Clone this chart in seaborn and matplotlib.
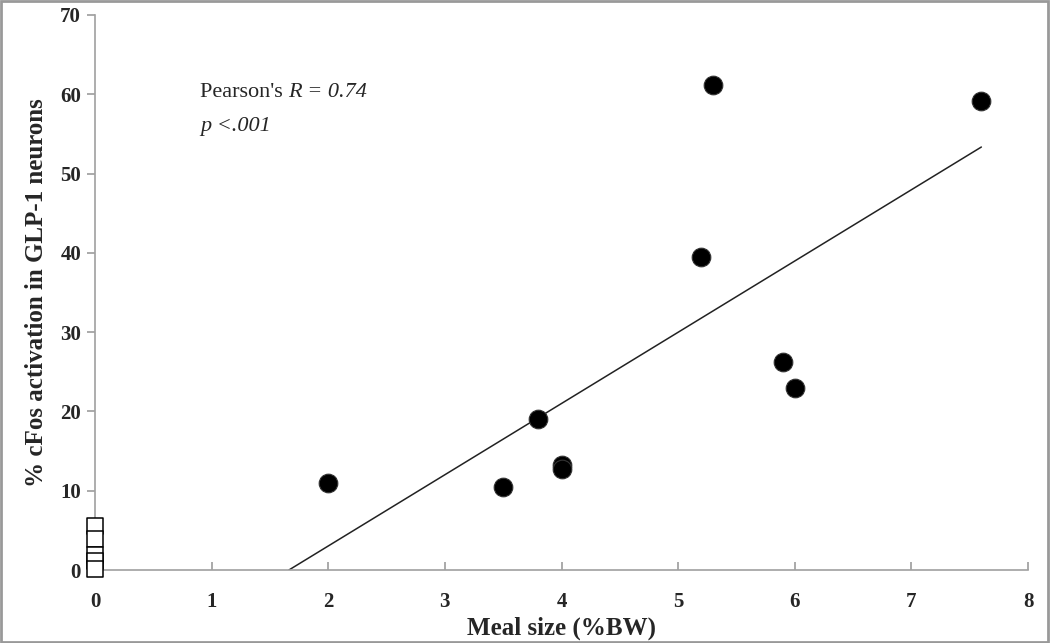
import numpy as np
import pandas as pd
import matplotlib
matplotlib.use("Agg")
import matplotlib.pyplot as plt
import seaborn as sns
from matplotlib.patches import Rectangle

# Data
meal_size = [2.0, 3.5, 3.8, 4.0, 4.0, 5.2, 5.3, 5.9, 6.0, 7.6]
cfos = [11.0, 10.5, 19.0, 13.3, 12.7, 39.5, 61.2, 26.2, 23.0, 59.2]
ctrl_meal = [0, 0, 0, 0, 0]
ctrl_cfos = [5.5, 3.9, 1.9, 1.1, 0.1]
x_ticks = [0, 1, 2, 3, 4, 5, 6, 7, 8]
y_ticks = [0, 10, 20, 30, 40, 50, 60, 70]

sns.set_theme(style="white")
plt.rcParams['font.family'] = ['Liberation Serif', 'DejaVu Serif']

fig = plt.figure(figsize=(10.5, 6.43), dpi=100)
ax = fig.add_axes([95/1050, (643-570)/643, (1028-95)/1050, (570-15)/643])

df = pd.DataFrame({"x": meal_size, "y": cfos})
dfc = pd.DataFrame({"x": ctrl_meal, "y": ctrl_cfos})

# regression line from fed animals
slope, intercept = np.polyfit(meal_size, cfos, 1)
x0 = -intercept / slope
fit = pd.DataFrame({"x": [x0, max(meal_size)]})
fit["y"] = slope * fit["x"] + intercept
sns.lineplot(data=fit, x="x", y="y", ax=ax, color="#222222", lw=1.1, zorder=2)

sns.scatterplot(data=df, x="x", y="y", ax=ax, s=180, color="black",
                edgecolor="#333333", linewidth=0.8, zorder=3)
sns.scatterplot(data=dfc, x="x", y="y", ax=ax, s=140, marker="s", color="white",
                edgecolor="black", linewidth=1.1, zorder=4, clip_on=False)

ax.set_xlim(0, 8)
ax.set_ylim(0, 70)
ax.set_xticks(x_ticks)
ax.set_yticks(y_ticks)
ax.set_xticklabels([str(v) for v in x_ticks], fontsize=15, fontweight="bold")
ax.set_yticklabels([str(v) for v in y_ticks], fontsize=15, fontweight="bold")
ax.tick_params(axis="x", direction="in", length=6, color="#a0a0a0", pad=16, bottom=True)
ax.tick_params(axis="y", direction="out", length=6, color="#a0a0a0", pad=4, left=True)
for s in ["top", "right"]:
    ax.spines[s].set_visible(False)
for s in ["left", "bottom"]:
    ax.spines[s].set_color("#a0a0a0")
    ax.spines[s].set_linewidth(1.2)

ax.set_xlabel("Meal size (%BW)", fontsize=18, fontweight="bold", labelpad=3)
ax.set_ylabel("% cFos activation in GLP-1 neurons", fontsize=18, fontweight="bold", labelpad=9)

t1 = ax.text(0.9, 60.2, "Pearson's ", fontsize=16, va="center", ha="left")
ax.annotate("R = 0.74", xy=(1, 0.5), xycoords=t1, va="center", ha="left",
            fontsize=16, style="italic")
ax.text(0.9, 56.0, "p <.001", fontsize=16, va="center", ha="left", style="italic")

fig.patches.append(Rectangle((0.001, 0.001), 0.997, 0.997, transform=fig.transFigure,
                             fill=False, edgecolor="#999999", linewidth=2))

fig.savefig("out.png", dpi=100)
